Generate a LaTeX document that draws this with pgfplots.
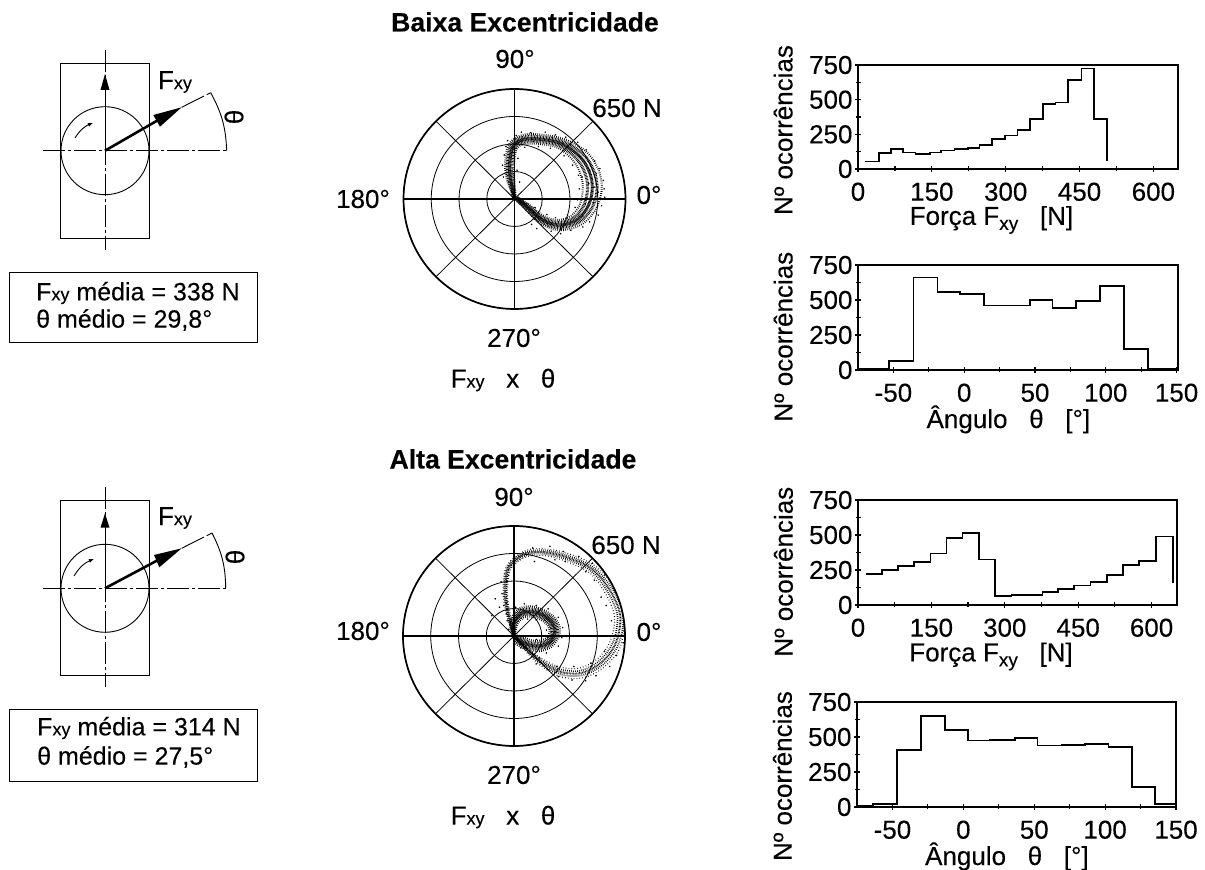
\documentclass[border=0pt]{standalone}
\usepackage{fontspec}
\setmainfont{Liberation Sans}[FakeBold=0.2,BoldFeatures={FakeBold=0.2}]
\usepackage{pgfplots}
\pgfplotsset{compat=1.18}
\usepgfplotslibrary{polar}
\usetikzlibrary{arrows.meta}
\newcommand\fs{\fontsize{26}{30}\selectfont}
\newcommand\ft{\fontsize{26.6}{30}\selectfont}
\newcommand\fb{\fontsize{25}{30}\selectfont}
\newcommand\sxy{{\fontsize{18}{18}\selectfont xy}}
\newcommand\lowxy{\raisebox{-5pt}{\fontsize{19}{19}\selectfont xy}}
\pgfplotsset{
  hist/.style={
    scale only axis, axis line style={line width=1.3pt},
    tick style={black,line width=1.2pt}, tick align=center,
    major tick length=6pt, minor tick length=5pt, tick pos=left,
    ymin=0,ymax=750,ytick={0,250,500,750},minor ytick={125,375,625},
    tick label style={font=\fs},
    xticklabel style={yshift=-7pt},
    yticklabel style={xshift=1pt},
    /pgf/number format/assume math mode=true,
    label style={font=\fs,inner sep=0pt},
    clip=false,
    ylabel={Nº ocorrências},
  },
  histF/.style={hist,xmin=0,xmax=650,xtick={0,150,300,450,600},minor xtick={75,225,375,525},
    xlabel={Força F\lowxy\ \ \ [N]},
    xlabel style={at={(axis description cs:0.417,-0.49)},anchor=center}},
  histA/.style={hist,xmin=-75,xmax=151,xtick={-50,0,50,100,150},xticklabels={-50,0,50,100,150},minor xtick={-25,25,75,125},
    xlabel={Ângulo\ \ \ θ\ \ \ [°]},
    xlabel style={at={(axis description cs:0.47,-0.47)},anchor=center}},
  line/.style={black,line width=1.7pt,const plot mark left,mark=none},
  pol/.style={
    scale only axis,width=222pt,height=220pt,anchor=center,
    xmin=0,xmax=360,ymin=0,ymax=650,
    xtick={0,45,...,315},ytick={162.5,325,487.5,650},
    xticklabels={},yticklabels={},
    grid=major,grid style={black,line width=0.8pt},
    major tick length=0pt,
    axis line style={line width=1.7pt},
  },
  axisline/.style={black,line width=1.6pt,mark=none},
  core/.style={black,line width=3pt,smooth,tension=0.6,dash pattern=on 0.8pt off 0.5pt,mark=none,data cs=cart},
  mid/.style={black,line width=3pt,smooth,tension=0.6,dash pattern=on 0.7pt off 0.8pt,mark=none,data cs=cart},
  sparse/.style={black,line width=2pt,smooth,tension=0.6,dash pattern=on 0.7pt off 1.4pt,mark=none,data cs=cart},
  outa/.style={black,line width=2pt,smooth,tension=0.6,dash pattern=on 0.7pt off 0.8pt,mark=none,data cs=cart},
  outb/.style={black,line width=1.7pt,smooth,tension=0.6,dash pattern=on 0.7pt off 1.3pt,mark=none,data cs=cart},
  outc/.style={black,line width=1.1pt,smooth,tension=0.6,dash pattern=on 0.7pt off 2.2pt,mark=none,data cs=cart},
  stray/.style={black,only marks,mark=*,mark size=0.55pt,data cs=cart},
}
\begin{document}
\begin{tikzpicture}[every node/.style={font=\fs}]
\path[use as bounding box] (0,0) rectangle (1205pt,870pt);

% ---- histograms
\begin{axis}[histF,at={(858pt,701pt)},anchor=south west,width=320pt,height=104pt,
  ylabel style={at={(axis description cs:-0.234,0.375)},anchor=center}]
\addplot[line] coordinates {(13.5,55)(42.7,115)(67.7,144)(91,120)(117,110)(145.6,120)(169,134)(196,144)(223,153)(247,175)(272,216)(298,242)(324,283)(350,359)(376,467)(401,479)(427,642)(454,724)(479,359)(506,55)};
\end{axis}
\begin{axis}[histA,at={(858pt,500pt)},anchor=south west,width=320pt,height=105pt,
  ylabel style={at={(axis description cs:-0.234,0.317)},anchor=center}]
\addplot[line] coordinates {(-74.6,10)(-52.9,62)(-35.8,660)(-18.8,555)(-2.8,545)(14.1,460)(31.3,460)(46.6,500)(62.4,443)(79.1,493)(96,602)(112.9,148)(129.6,10)(150,10)};
\end{axis}
\begin{axis}[histF,at={(858pt,265pt)},anchor=south west,width=319pt,height=105pt,xmax=652,
  ylabel style={at={(axis description cs:-0.234,0.317)},anchor=center}]
\addplot[line] coordinates {(15.7,219)(49,250)(81.8,279)(114.5,307)(148,367)(180.7,479)(213.4,512)(247.5,326)(280,64)(313.6,69)(344,69)(377,93)(409,112)(442,140)(475,162)(509,212)(542,286)(575,314)(609,490)(644,155)};
\end{axis}
\begin{axis}[histA,at={(857pt,63pt)},anchor=south west,width=319pt,height=105pt,xmax=150,
  ylabel style={at={(axis description cs:-0.234,0.295)},anchor=center}]
\addplot[line] coordinates {(-75,5)(-63.5,19)(-46.6,405)(-29.9,648)(-12.9,548)(3.3,474)(18.8,481)(36.5,495)(52.2,440)(69.4,445)(85.9,450)(102.4,429)(118.8,143)(135.3,19)(150,19)};
\end{axis}

% ---- polar 1
\begin{polaraxis}[pol,at={(514.5pt,671pt)}]
\addplot[axisline] coordinates {(0,650)(180,650)};
\addplot[axisline] coordinates {(90,650)(270,650)};
\addplot[core] coordinates {(0,0)(-10,58)(-23,116)(-29,208)(-6,315)(62,353)(149,353)(255,334)(342,286)(409,218)(450,122)(452,25)(420,-62)(355,-129)(255,-154)(158,-120)(81,-52)(14,6)};
\addplot[mid] coordinates {(-3,0)(-17,57)(-34,116)(-42,209)(-16,323)(59,367)(149,367)(260,348)(354,302)(429,233)(476,130)(480,25)(442,-72)(366,-144)(255,-169)(152,-130)(75,-59)(12,4)};
\addplot[mid] coordinates {(3,0)(-3,59)(-12,116)(-16,207)(4,307)(65,339)(149,339)(250,320)(330,270)(389,203)(424,114)(424,25)(398,-52)(344,-114)(255,-139)(164,-110)(87,-45)(16,8)};
\addplot[sparse] coordinates {(-6,0)(-24,57)(-45,116)(-55,211)(-27,331)(56,381)(149,381)(264,362)(366,318)(449,248)(503,138)(507,25)(463,-81)(378,-159)(255,-184)(146,-140)(69,-65)(10,2)};
\addplot[sparse] coordinates {(6,0)(4,59)(-1,116)(-3,205)(15,299)(68,325)(149,325)(246,306)(318,254)(369,188)(397,105)(397,25)(377,-43)(332,-99)(255,-124)(170,-100)(93,-39)(18,10)};
\addplot[stray] coordinates {(40,395)(95,392)(180,395)(240,380)(300,365)(370,335)(420,290)(470,225)(500,180)(520,110)(525,60)(528,10)(510,-40)(490,-95)(440,-135)(400,-165)(330,-185)(270,-205)(215,-190)(130,-175)(100,-150)(-70,200)(-65,130)(-60,260)(-50,310)(-40,345)(10,375)(60,305)(140,310)(210,300)(290,255)(340,200)(375,140)(380,60)(370,-5)(355,-50)(310,-95)(240,-110)(190,-92)(120,-50)(20,240)(15,170)(30,100)(470,70)(435,90)(490,40)(460,-20)(415,-30)(395,130)(440,170)(380,250)(330,320)(220,365)(110,340)(300,-150)(210,-150)(400,-100)(480,150)};
\end{polaraxis}

% ---- polar 2
\begin{polaraxis}[pol,at={(514pt,234pt)}]
\addplot[axisline] coordinates {(0,650)(180,650)};
\addplot[axisline] coordinates {(90,650)(270,650)};
\addplot[outa] coordinates {(0,0)(-25,93)(-50,228)(-44,363)(-12,430)(75,488)(191,494)(326,459)(461,392)(558,276)(616,151)(620,54)(587,-62)(510,-158)(403,-216)(288,-216)(181,-168)(85,-91)(0,0)};
\addplot[outb] coordinates {(-2,0)(-30,93)(-56,228)(-51,364)(-18,436)(73,497)(192,504)(331,470)(469,402)(572,284)(632,154)(637,52)(602,-70)(521,-169)(407,-230)(285,-230)(175,-176)(81,-95)(-1,-1)};
\addplot[outb] coordinates {(2,0)(-20,93)(-44,228)(-37,362)(-6,424)(77,479)(190,484)(321,448)(453,382)(544,268)(600,148)(603,56)(572,-54)(499,-147)(399,-202)(291,-202)(187,-160)(89,-86)(1,1)};
\addplot[outc] coordinates {(-4,0)(-35,93)(-62,228)(-58,364)(-23,441)(71,506)(193,514)(336,481)(478,412)(585,292)(636,155)(642,51)(618,-77)(532,-180)(412,-245)(282,-243)(170,-185)(77,-100)(-3,-3)};
\addplot[outc] coordinates {(4,0)(-15,93)(-38,228)(-30,362)(-1,419)(79,470)(189,474)(316,437)(444,372)(531,260)(583,144)(586,57)(556,-47)(488,-136)(394,-187)(294,-189)(192,-151)(93,-82)(3,3)};
\addplot[core] coordinates {(0,0)(-2,73)(37,131)(95,145)(162,127)(220,83)(239,25)(210,-33)(152,-58)(85,-52)(27,-23)(0,0)};
\addplot[mid] coordinates {(-3,0)(-12,76)(28,143)(94,160)(170,140)(233,92)(255,26)(221,-43)(156,-73)(80,-66)(18,-34)(-2,-2)};
\addplot[mid] coordinates {(3,0)(8,70)(46,120)(96,130)(154,114)(207,74)(224,24)(199,-23)(148,-43)(90,-38)(36,-12)(2,2)};
\addplot[sparse] coordinates {(-6,0)(-22,78)(20,155)(93,175)(178,152)(245,100)(270,27)(232,-53)(160,-88)(75,-80)(10,-45)(-4,-4)};
\addplot[sparse] coordinates {(5,0)(18,68)(54,108)(97,115)(146,102)(195,66)(209,23)(188,-14)(144,-28)(95,-24)(44,-2)(4,4)};
\addplot[stray] coordinates {(-70,250)(-75,320)(-60,180)(-45,130)(-85,170)(-110,220)(-130,120)(30,470)(110,520)(210,530)(290,500)(380,470)(460,430)(530,360)(600,260)(640,120)(645,30)(640,-40)(600,-115)(560,-180)(480,-235)(420,-265)(340,-260)(260,-240)(200,-200)(130,-165)(100,-100)(150,-130)(510,230)(540,180)(570,90)(560,0)(530,-90)(450,-160)(350,-180)(250,-180)(300,440)(240,450)(120,440)(420,380)(470,330)(285,50)(280,-10)(260,-60)(190,-100)(110,-105)(40,-70)(-30,40)(-40,90)(10,170)(60,190)(130,180)(200,160)(260,110)(180,95)(130,95)(80,100)(190,35)(170,0)(130,-20)};
\end{polaraxis}

% ---- text and schematics, in picture pixels
\begin{scope}[x=1pt,y=-1pt,yshift=870pt]
\node[font=\ft] at (525,22) {\bfseries Baixa Excentricidade};
\node at (515,59) {90°};
\node at (627,108) {650 N};
\node at (363,199) {180°};
\node at (649,195) {0°};
\node at (514,338) {270°};
\node at (503,380) {F\sxy\ \ \ x\ \ \ θ};
\node[font=\ft] at (513,459) {\bfseries Alta Excentricidade};
\node at (514,497) {90°};
\node at (626,545) {650 N};
\node at (363,631) {180°};
\node at (649,632) {0°};
\node at (514,775) {270°};
\node at (503,817) {F\sxy\ \ \ x\ \ \ θ};
% upper schematic
\draw[line width=0.9pt] (60.7,63.3) rectangle (149.3,238.3);
\draw[line width=0.9pt] (105,150.7) circle (44pt);
\draw[line width=0.9pt,dash pattern=on 22pt off 3pt on 3pt off 3pt] (105,50)--(105,250);
\draw[line width=0.9pt,dash pattern=on 22pt off 3pt on 3pt off 3pt] (43,150.7)--(227,150.7);
\draw[line width=1pt] (105,150.7)--(105,85);
\fill (105,74)--(100.5,90)--(109.5,90)--cycle;
\draw[line width=2.6pt] (105,150.7)--(160,119);
\fill (181.7,107.3)--(153.3,115)--(160,126.7)--cycle;
\draw[line width=0.9pt,dash pattern=on 25pt off 3pt] (181.7,107.3)--(210.7,92.7);
\draw[line width=0.9pt] (210.7,92.7) to[bend left=13] (226.7,150.7);
\draw[line width=0.9pt,-{Latex[length=5pt,width=4pt]}] (75,138) to[bend left=18] (93,123);
\node at (175,82) {F\sxy};
\node[rotate=-90] at (234,117) {θ};
\draw[line width=0.9pt] (9,272) rectangle (257,342);
\node[anchor=west,font=\fb,inner sep=0pt] at (36,293) {F\sxy\ média = 338 N};
\node[anchor=west,font=\fb,inner sep=0pt] at (36,320) {θ médio = 29,8°};
% lower schematic
\draw[line width=0.9pt] (60,500.7) rectangle (149,675);
\draw[line width=0.9pt] (105,588.3) circle (44pt);
\draw[line width=0.9pt,dash pattern=on 22pt off 3pt on 3pt off 3pt] (105,487)--(105,687);
\draw[line width=0.9pt,dash pattern=on 22pt off 3pt on 3pt off 3pt] (43,588.3)--(227,588.3);
\draw[line width=1pt] (105,588.3)--(105,525);
\fill (105,513.3)--(100.5,527.7)--(109.5,527.7)--cycle;
\draw[line width=2.6pt] (105,588.3)--(160,559);
\fill (181.7,548.3)--(154,555)--(159.3,567.3)--cycle;
\draw[line width=0.9pt,dash pattern=on 25pt off 3pt] (181.7,548.3)--(212,533);
\draw[line width=0.9pt] (212,533) to[bend left=13] (225.7,588);
\draw[line width=0.9pt,-{Latex[length=5pt,width=4pt]}] (74,576) to[bend left=18] (94,559);
\node at (175,518) {F\sxy};
\node[rotate=-90] at (235,557) {θ};
\draw[line width=0.9pt] (9,709) rectangle (257,781.7);
\node[anchor=west,font=\fb,inner sep=0pt] at (37,728) {F\sxy\ média = 314 N};
\node[anchor=west,font=\fb,inner sep=0pt] at (37,757) {θ médio = 27,5°};
\end{scope}
\end{tikzpicture}
\end{document}
